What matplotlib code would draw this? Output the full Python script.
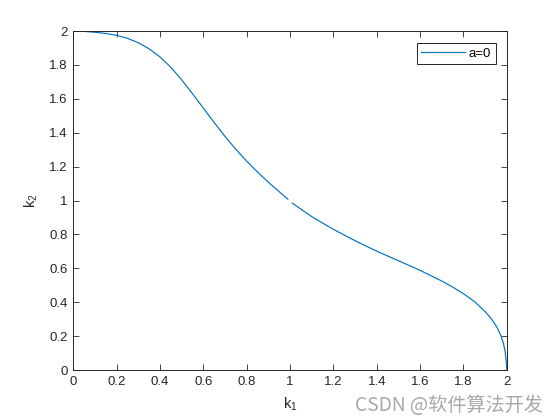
import numpy as np
import matplotlib
matplotlib.use("Agg")
import matplotlib.pyplot as plt

# Datos (dos tramos, hay un hueco cerca de k1 = 1)
k1_a = [0.0, 0.05, 0.10, 0.15, 0.20, 0.25, 0.30, 0.35, 0.40, 0.45, 0.50,
        0.55, 0.60, 0.65, 0.70, 0.75, 0.80, 0.85, 0.90, 0.95, 0.99]
k2_a = [2.0, 1.998, 1.993, 1.986, 1.975, 1.957, 1.931, 1.895, 1.847, 1.786, 1.712,
        1.630, 1.545, 1.460, 1.378, 1.302, 1.232, 1.168, 1.108, 1.052, 1.008]

k1_b = [1.01, 1.10, 1.20, 1.30, 1.40, 1.50, 1.60, 1.70, 1.75, 1.80, 1.85,
        1.90, 1.93, 1.955, 1.972, 1.984, 1.992, 1.997, 2.0]
k2_b = [0.985, 0.905, 0.830, 0.763, 0.701, 0.645, 0.588, 0.525, 0.490, 0.450, 0.405,
        0.345, 0.300, 0.252, 0.205, 0.160, 0.110, 0.060, 0.0]

x_ticks = [0, 0.2, 0.4, 0.6, 0.8, 1, 1.2, 1.4, 1.6, 1.8, 2]
y_ticks = [0, 0.2, 0.4, 0.6, 0.8, 1, 1.2, 1.4, 1.6, 1.8, 2]
tick_labels = ['0', '0.2', '0.4', '0.6', '0.8', '1', '1.2', '1.4', '1.6', '1.8', '2']

plt.rcParams['font.family'] = ['Liberation Sans', 'DejaVu Sans']
plt.rcParams['mathtext.default'] = 'regular'

color = '#0072BD'
gris = '#262626'

fig = plt.figure(figsize=(5.6, 4.2), dpi=100)
ax = fig.add_axes([0.131, 0.119, 0.774, 0.807])

ax.plot(k1_a, k2_a, color=color, linewidth=0.85, label='a=0')
ax.plot(k1_b, k2_b, color=color, linewidth=0.85)

ax.set_xlim(0, 2)
ax.set_ylim(0, 2)
ax.set_xticks(x_ticks)
ax.set_yticks(y_ticks)
ax.set_xticklabels(tick_labels)
ax.set_yticklabels(tick_labels)

ax.tick_params(direction='in', top=True, right=True, length=4, width=0.6,
               colors=gris, labelsize=9.5, pad=4)
for s in ax.spines.values():
    s.set_color(gris)
    s.set_linewidth(0.7)

ax.set_xlabel('k$_1$', fontsize=10.5, color=gris, labelpad=6)
ax.set_ylabel('k$_2$', fontsize=10.5, color=gris, labelpad=7)

leg = ax.legend(loc='upper right', bbox_to_anchor=(495.7 / 560, 1 - 42.7 / 420),
                bbox_transform=fig.transFigure, borderaxespad=0, fancybox=False,
                framealpha=1, edgecolor='black', fontsize=9.5, handlelength=3.3,
                handletextpad=0.3, borderpad=0.35)
leg.get_frame().set_linewidth(0.6)

# Marca de agua
fig.text(0.97, 0.035, 'CSDN @软件算法开发', ha='right', va='center',
         fontsize=13.8, color='#a8a8a8',
         family=['Noto Sans CJK SC', 'DejaVu Sans'])

fig.savefig('out.png', dpi=100)
